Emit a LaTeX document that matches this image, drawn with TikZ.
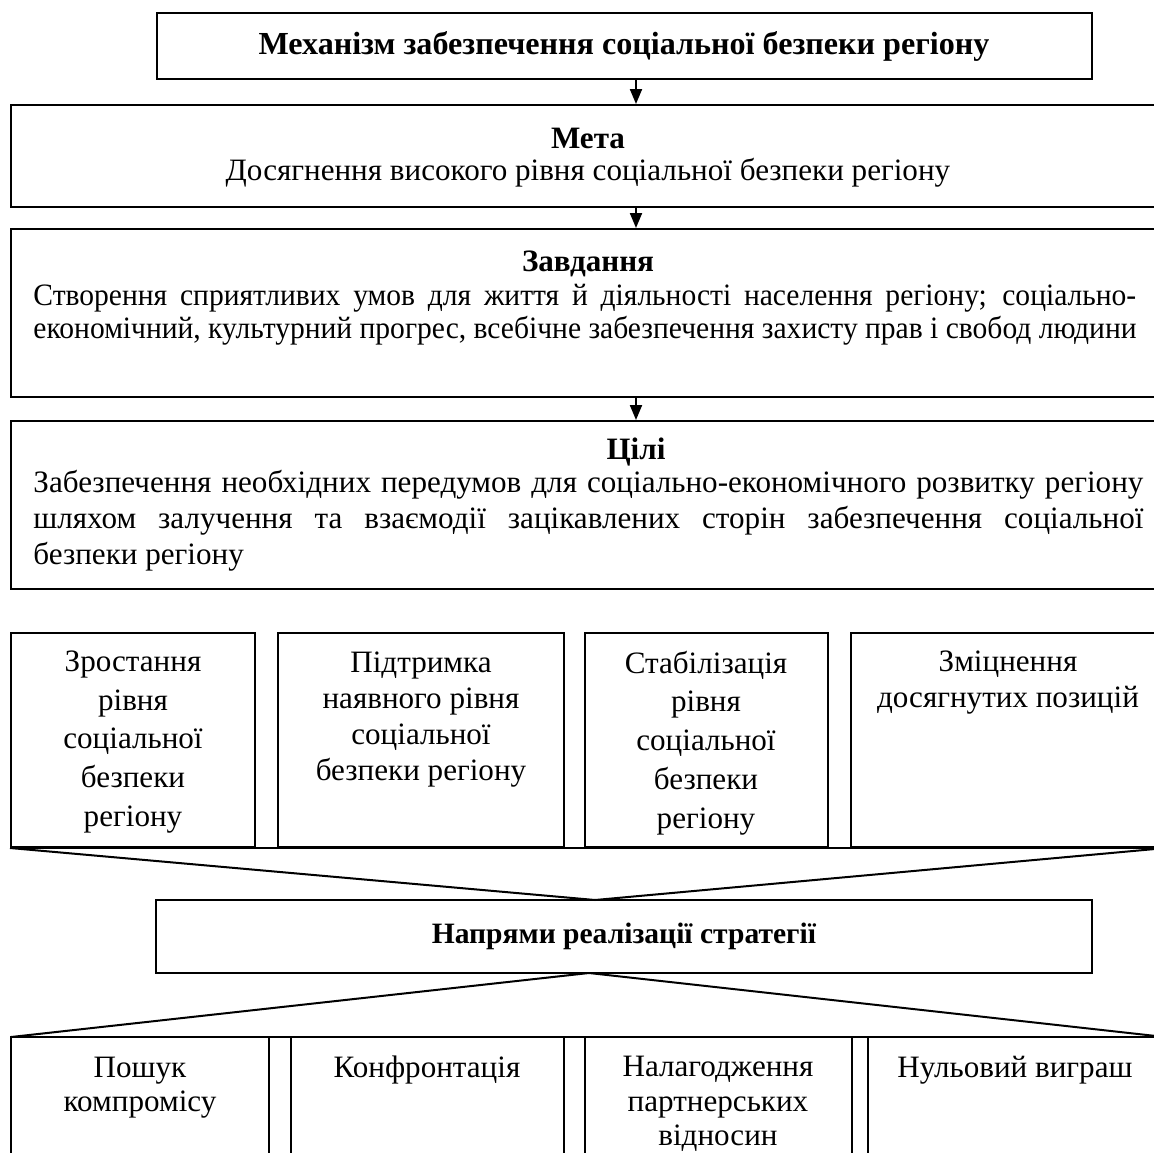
\documentclass[tikz,border=0pt]{standalone}
\usepackage{fontspec}
\setmainfont{Liberation Serif}
\newfontfamily\narrowserif[FakeStretch=0.95]{Liberation Serif}
\usetikzlibrary{arrows.meta,calc,fit}

% a line stretched to a given width
\newcommand\fullline[2][499.5pt]{\makebox[#1][s]{#2}}

\begin{document}
\begin{tikzpicture}[x=0.45pt,y=-0.45pt,
  frame/.style={draw,line width=0.9pt,inner sep=0pt,fit={#1}},
  txt/.style={inner sep=0pt,align=center,font=\fontsize{14}{16.2}\selectfont},
  tall/.style={inner sep=0pt,align=center,font=\fontsize{14}{17.5}\selectfont},
  low/.style={inner sep=0pt,align=center,font=\fontsize{14}{15.5}\selectfont},
  jpar/.style={inner sep=0pt,align=left,anchor=west,font=\fontsize{14}{#1}\selectfont},
  arr/.style={line width=0.9pt,-{Triangle[length=6.75pt,width=5.4pt]}},
  ln/.style={line width=0.9pt}]
\useasboundingbox (0,0) rectangle (1154,1153);

% vertical axis of the arrows
\coordinate (axis) at (636,0);

% top chain of boxes
\node[frame={(157,13) (1092,79)}] (mech) {};
\node[txt,font=\fontsize{14.45}{16.2}\selectfont] (mechT) at (624,46) {\textbf{Механізм забезпечення соціальної безпеки регіону}};

\node[frame={(11,105) (1165,207)}] (meta) {};
\node[txt] (metaH) at (588,138) {\textbf{Мета}};
\node[txt] (metaT) at (588,173) {Досягнення високого рівня соціальної безпеки регіону};

\node[frame={(11,229) (1165,397)}] (zavd) {};
\node[txt] (zavdH) at (588,264) {\textbf{Завдання}};
\node[jpar=15,font=\narrowserif\fontsize{14}{15}\selectfont] (zavdT) at (33,314.5) {\fullline[496.3pt]{Створення сприятливих умов для життя й діяльності населення регіону; соціально-}\\
економічний, культурний прогрес, всебічне забезпечення захисту прав і свобод людини};

\node[frame={(11,421) (1165,589)}] (cili) {};
\node[txt] (ciliH) at (636,452) {\textbf{Цілі}};
\node[jpar=16.2] (ciliT) at (33,521) {\fullline{Забезпечення необхідних передумов для соціально-економічного розвитку регіону}\\
\fullline{шляхом залучення та взаємодії зацікавлених сторін забезпечення соціальної}\\
безпеки регіону};

\draw[arr] (mech.south -| axis) -- (meta.north -| axis);
\draw[arr] (meta.south -| axis) -- (zavd.north -| axis);
\draw[arr] (zavd.south -| axis) -- (cili.north -| axis);

% row of four strategy types
\node[frame={(11,633) (255,847)}] (b1) {};
\node[frame={(278,633) (564,847)}] (b2) {};
\node[frame={(585,633) (828,847)}] (b3) {};
\node[frame={(851,633) (1165,847)}] (b4) {};
\node[tall] (b1T) at (133,742) {Зростання\\рівня\\соціальної\\безпеки\\регіону};
\node[txt] (b2T) at (421,720) {Підтримка\\наявного рівня\\соціальної\\безпеки регіону};
\node[tall] (b3T) at (706,743) {Стабілізація\\рівня\\соціальної\\безпеки\\регіону};
\node[txt] (b4T) at (1008,683) {Зміцнення\\досягнутих позицій};
\draw[ln] (b1.south west) -- (b4.south east);

% directions box and the two funnels
\node[frame={(156,900) (1092,973)}] (dir) {};
\node[txt,font=\fontsize{13.3}{16}\selectfont] (dirT) at (624,936) {\textbf{Напрями реалізації стратегії}};
\coordinate (apexT) at (595,900);
\coordinate (apexB) at (589,973);
\draw[ln] (b1.south west) -- (apexT) -- (b4.south east);

% row of four directions (open at the bottom)
\coordinate (lowL) at (11,1037);
\coordinate (lowR) at (1165,1037);
\draw[ln] (lowL) -- (apexB) -- (lowR);
\draw[ln] (lowL) -- (lowR);
\node[frame={(11,1037) (269,1175)}] (c1) {};
\node[frame={(291,1037) (564,1175)}] (c2) {};
\node[frame={(585,1037) (852,1175)}] (c3) {};
\node[frame={(868,1037) (1162,1175)}] (c4) {};
\node[low] (c1T) at (140,1087.5) {Пошук\\компромісу};
\node[txt] (c2T) at (427,1070) {Конфронтація};
\node[low] (c3T) at (718,1104) {Налагодження\\партнерських\\відносин};
\node[txt] (c4T) at (1015,1070) {Нульовий виграш};
\end{tikzpicture}
\end{document}
